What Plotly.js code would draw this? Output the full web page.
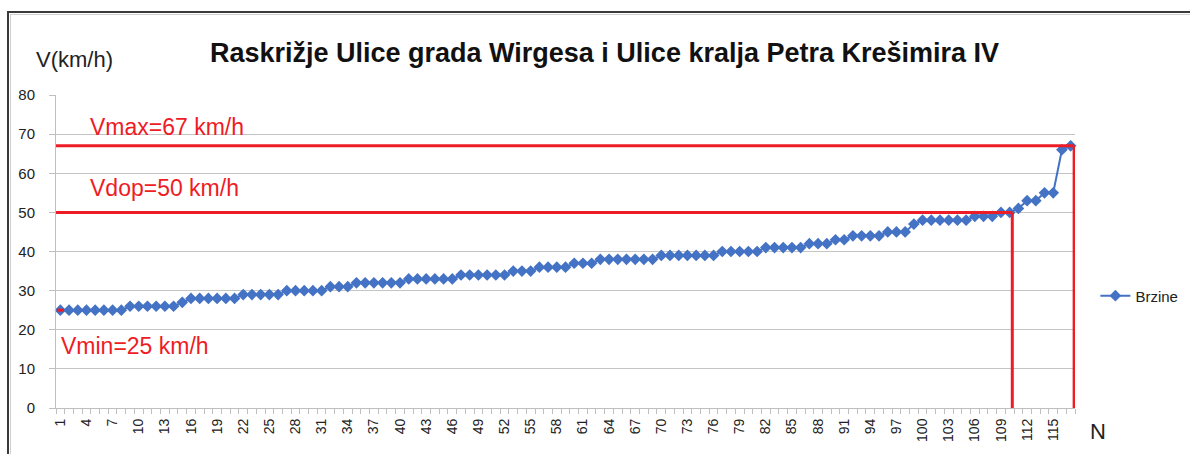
<!DOCTYPE html>
<html>
<head>
<meta charset="utf-8">
<script src="https://cdn.plot.ly/plotly-3.0.1.min.js"></script>
<style>
  html, body { margin: 0; padding: 0; background: #ffffff; }
  #wrap { position: relative; width: 1190px; height: 454px; overflow: hidden; }
  #chart { position: absolute; left: 0; top: 0; width: 1190px; height: 454px; }
  #frameOuter { position: absolute; left: 7px; top: 11px; width: 1200px; height: 460px;
    border-left: 2px solid #3a3a3a; border-top: 2px solid #3a3a3a; pointer-events: none; }
  #frameInner { position: absolute; left: 10px; top: 14px; width: 1200px; height: 460px;
    border-left: 1px solid #d0d0d0; border-top: 1px solid #d0d0d0; pointer-events: none; }
</style>
</head>
<body>
<div id="wrap">
  <div id="chart"></div>
  <div id="frameOuter"></div>
  <div id="frameInner"></div>
</div>
<script>
// ---- data ----
const chartTitle = "Raskrižje Ulice grada Wirgesa i Ulice kralja Petra Krešimira IV";
const seriesName = "Brzine";
const yAxisLabel = "V(km/h)";
const xAxisLabel = "N";

// measured speeds (km/h), sorted, N = 1..117
const speeds = [
  25,25,25,25,25,25,25,25,
  26,26,26,26,26,26,
  27,
  28,28,28,28,28,28,
  29,29,29,29,29,
  30,30,30,30,30,
  31,31,31,
  32,32,32,32,32,32,
  33,33,33,33,33,33,
  34,34,34,34,34,34,
  35,35,35,
  36,36,36,36,
  37,37,37,
  38,38,38,38,38,38,38,
  39,39,39,39,39,39,39,
  40,40,40,40,40,
  41,41,41,41,41,
  42,42,42,
  43,43,
  44,44,44,44,
  45,45,45,
  47,
  48,48,48,48,48,48,
  49,49,49,
  50,50,
  51,
  53,53,
  55,55,
  66,
  67
];
const vehicleIndex = speeds.map((_, i) => i + 1);
const xTickValues = vehicleIndex.filter(n => (n - 1) % 3 === 0);
const xTickLabels = xTickValues.map(String);
const yTickValues = [0, 10, 20, 30, 40, 50, 60, 70, 80];

// reference speeds
const vMax = 67, vDop = 50, vMin = 25;
const nDop = 110.3;   // where the Vdop line meets the curve
const nMax = 117.4;   // where the Vmax line meets the curve
const labels = [
  { text: "Vmax=67 km/h", n: 4.2, v: 71.9 },
  { text: "Vdop=50 km/h", n: 4.2, v: 56.3 },
  { text: "Vmin=25 km/h", n: 0.9, v: 15.8 }
];

// ---- chart ----
const red = "#ee1c25";
const blue = "#4472c4";
const font = "Liberation Sans, Arial, sans-serif";

const trace = {
  x: vehicleIndex,
  y: speeds,
  type: "scatter",
  mode: "lines+markers",
  name: seriesName,
  line: { color: blue, width: 2 },
  marker: { symbol: "diamond", size: 9, color: blue },
  cliponaxis: false
};

const shapes = [
  { type: "line", xref: "x", yref: "y", x0: 0.5, x1: nMax, y0: vMax, y1: vMax, line: { color: red, width: 3 } },
  { type: "line", xref: "x", yref: "y", x0: nMax, x1: nMax, y0: vMax, y1: 0, line: { color: red, width: 3 } },
  { type: "line", xref: "x", yref: "y", x0: 0.5, x1: nDop, y0: vDop, y1: vDop, line: { color: red, width: 3 } },
  { type: "line", xref: "x", yref: "y", x0: nDop, x1: nDop, y0: vDop, y1: 0, line: { color: red, width: 3 } },
  { type: "line", xref: "x", yref: "y", x0: 0.6, x1: 1.4, y0: vMin, y1: vMin, line: { color: red, width: 3 } }
];

const annotations = labels.map(l => ({
  text: l.text, x: l.n, y: l.v, xref: "x", yref: "y",
  xanchor: "left", yanchor: "middle", showarrow: false,
  font: { family: font, size: 23, color: red }
}));
annotations.push({
  text: yAxisLabel, xref: "paper", yref: "paper", x: -0.022, y: 1.112,
  xanchor: "left", yanchor: "middle", showarrow: false,
  font: { family: font, size: 22, color: "#222" }
});
annotations.push({
  text: xAxisLabel, xref: "paper", yref: "paper", x: 1.013, y: -0.075,
  xanchor: "left", yanchor: "middle", showarrow: false,
  font: { family: font, size: 22, color: "#222" }
});

const layout = {
  width: 1190, height: 454,
  margin: { l: 56, r: 115, t: 95, b: 46, autoexpand: false },
  paper_bgcolor: "rgba(0,0,0,0)",
  plot_bgcolor: "#ffffff",
  font: { family: font, color: "#222" },
  title: {
    text: "<b>" + chartTitle + "</b>",
    font: { family: font, size: 27, color: "#111" },
    x: 0.508, xanchor: "center", xref: "container",
    y: 0.885, yanchor: "middle", yref: "container"
  },
  xaxis: {
    range: [0.5, 117.5],
    tickvals: xTickValues, ticktext: xTickLabels,
    tickangle: -90,
    tickfont: { family: font, size: 14, color: "#222" },
    ticks: "", showgrid: false, zeroline: false,
    showline: true, linecolor: "#bfbfbf", linewidth: 1,
    minor: { tick0: 0.5, dtick: 1, ticks: "outside", ticklen: 5, tickcolor: "#bfbfbf", showgrid: false },
    ticklabelstandoff: 4,
    automargin: false,
    fixedrange: true
  },
  yaxis: {
    range: [0, 80],
    tickvals: yTickValues,
    tickfont: { family: font, size: 15, color: "#222" },
    ticks: "outside", ticklen: 6, tickcolor: "#bfbfbf",
    ticklabelstandoff: 11,
    showgrid: true, gridcolor: "#c4c4c4", gridwidth: 1,
    zeroline: false,
    showline: true, linecolor: "#bfbfbf", linewidth: 1,
    automargin: false,
    fixedrange: true
  },
  showlegend: true,
  legend: {
    x: 1.02, y: 0.358, xanchor: "left", yanchor: "middle",
    font: { family: font, size: 15, color: "#222" },
    bgcolor: "rgba(0,0,0,0)"
  },
  shapes: shapes,
  annotations: annotations
};

Plotly.newPlot("chart", [trace], layout, { staticPlot: true, displayModeBar: false });
</script>
</body>
</html>
